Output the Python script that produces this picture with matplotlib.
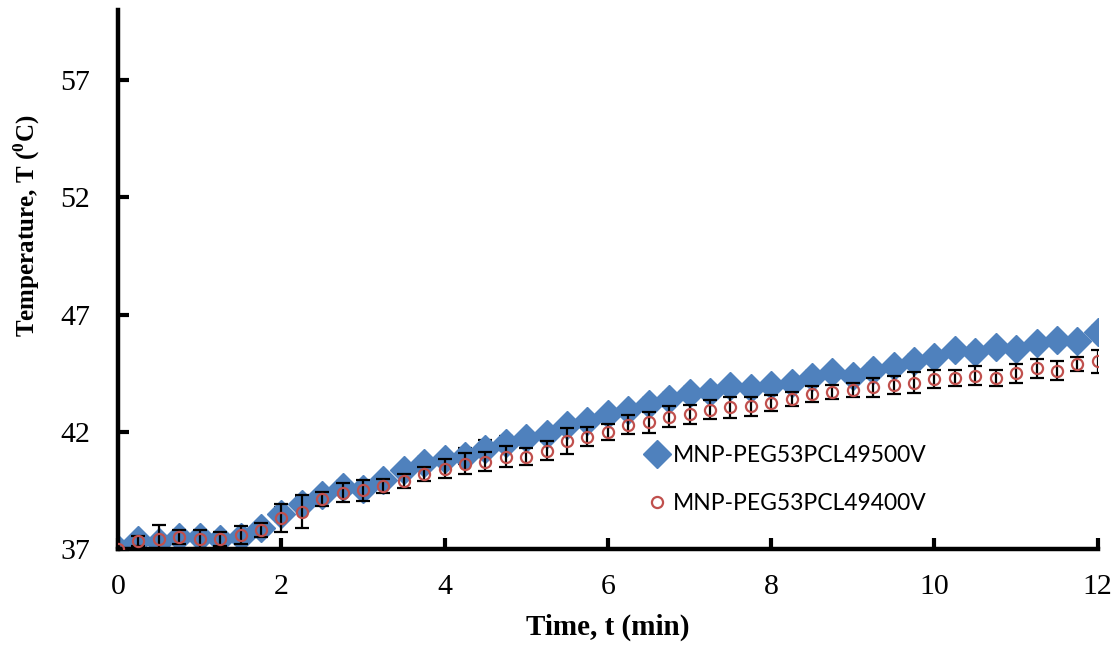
import matplotlib
matplotlib.use("Agg")
import matplotlib.pyplot as plt
import numpy as np

plt.rcParams['mathtext.fontset'] = 'custom'
plt.rcParams['mathtext.rm'] = 'Liberation Serif'
plt.rcParams['mathtext.bf'] = 'Liberation Serif:bold'

# time points (min)
time_min = np.arange(0, 12.01, 0.25)

# MNP-PEG53PCL49 at 500 V
temp_500 = [37.0, 37.38, 37.3, 37.5, 37.5, 37.43, 37.5, 37.9, 38.5, 38.93,
            39.3, 39.65, 39.57, 39.95, 40.38, 40.68, 40.85, 40.98, 41.28, 41.54,
            41.75, 41.92, 42.27, 42.44, 42.74, 42.95, 43.2, 43.42, 43.64, 43.7,
            43.94, 43.85, 44.0, 44.1, 44.35, 44.55, 44.4, 44.65, 44.8, 45.02,
            45.2, 45.5, 45.4, 45.62, 45.52, 45.8, 45.9, 45.88, 46.25]
err_500 = [0.05, 0.2, 0.2, 0.2, 0.2, 0.2, 0.2, 0.2, 0.3, 0.3,
           0.2, 0.25, 0.25, 0.2, 0.2, 0.25, 0.2, 0.35, 0.35, 0.3,
           0.2, 0.2, 0.25, 0.2, 0.2, 0.2, 0.25, 0.25, 0.25, 0.2,
           0.2, 0.2, 0.2, 0.2, 0.25, 0.2, 0.2, 0.25, 0.2, 0.25,
           0.2, 0.2, 0.25, 0.2, 0.2, 0.2, 0.2, 0.2, 0.25]

# MNP-PEG53PCL49 at 400 V
temp_400 = [37.0, 37.35, 37.43, 37.5, 37.43, 37.43, 37.6, 37.8, 38.33, 38.6,
            39.13, 39.4, 39.5, 39.7, 39.9, 40.2, 40.43, 40.64, 40.73, 40.94,
            40.94, 41.2, 41.6, 41.8, 42.0, 42.3, 42.4, 42.65, 42.74, 42.95,
            43.04, 43.08, 43.22, 43.4, 43.6, 43.7, 43.8, 43.9, 44.0, 44.1,
            44.25, 44.3, 44.4, 44.3, 44.5, 44.7, 44.6, 44.9, 45.0]
err_400 = [0.05, 0.2, 0.6, 0.3, 0.4, 0.3, 0.4, 0.3, 0.6, 0.7,
           0.3, 0.4, 0.45, 0.3, 0.3, 0.3, 0.4, 0.45, 0.4, 0.45,
           0.35, 0.4, 0.55, 0.4, 0.35, 0.4, 0.45, 0.45, 0.4, 0.4,
           0.45, 0.4, 0.35, 0.3, 0.35, 0.3, 0.3, 0.4, 0.4, 0.45,
           0.4, 0.35, 0.4, 0.35, 0.4, 0.4, 0.4, 0.3, 0.5]

fig = plt.figure(figsize=(11.19, 6.49), dpi=100)
ax = fig.add_axes([0.1055, 0.154, 0.8755, 0.831])

ax.errorbar(time_min, temp_500, yerr=err_500, fmt='D', color='#4F81BD',
            markersize=14, ecolor='black', elinewidth=1.6, capsize=5,
            capthick=1.6, zorder=2, label='MNP-PEG53PCL49500V')
ax.errorbar(time_min, temp_400, yerr=err_400, fmt='o', markerfacecolor='none',
            markeredgecolor='#C0504D', markeredgewidth=1.6, markersize=8,
            ecolor='black', elinewidth=1.6, capsize=5, capthick=1.6,
            zorder=3, label='MNP-PEG53PCL49400V')

ax.set_xlim(0, 12)
ax.set_ylim(37, 60)
ax.set_xticks(np.arange(0, 13, 2))
ax.set_yticks(np.arange(37, 58, 5))

for s in ['top', 'right']:
    ax.spines[s].set_visible(False)
for s in ['left', 'bottom']:
    ax.spines[s].set_linewidth(3.2)
ax.tick_params(direction='in', length=8, width=3, labelsize=21.5)
ax.tick_params(axis='x', pad=18)
ax.tick_params(axis='y', pad=20)
for lab in ax.get_xticklabels() + ax.get_yticklabels():
    lab.set_fontfamily('Liberation Serif')

ax.set_xlabel('Time, t (min)', fontfamily='Liberation Serif',
              fontweight='bold', fontsize=21, labelpad=10)
ax.set_ylabel(r'Temperature, T ($^{\mathbf{0}}$C)', fontfamily='Liberation Serif',
              fontweight='bold', fontsize=18)
ax.yaxis.set_label_coords(-0.078, 0.6)

h, l = ax.get_legend_handles_labels()
h = [x[0] for x in h]
leg = ax.legend(h, l, loc='center left', bbox_to_anchor=(0.516, 0.129),
                frameon=False, labelspacing=1.2,
                handletextpad=0.15, handlelength=1.1,
                prop={'family': 'Lato', 'size': 16.5})

fig.savefig('out.png', dpi=100)
